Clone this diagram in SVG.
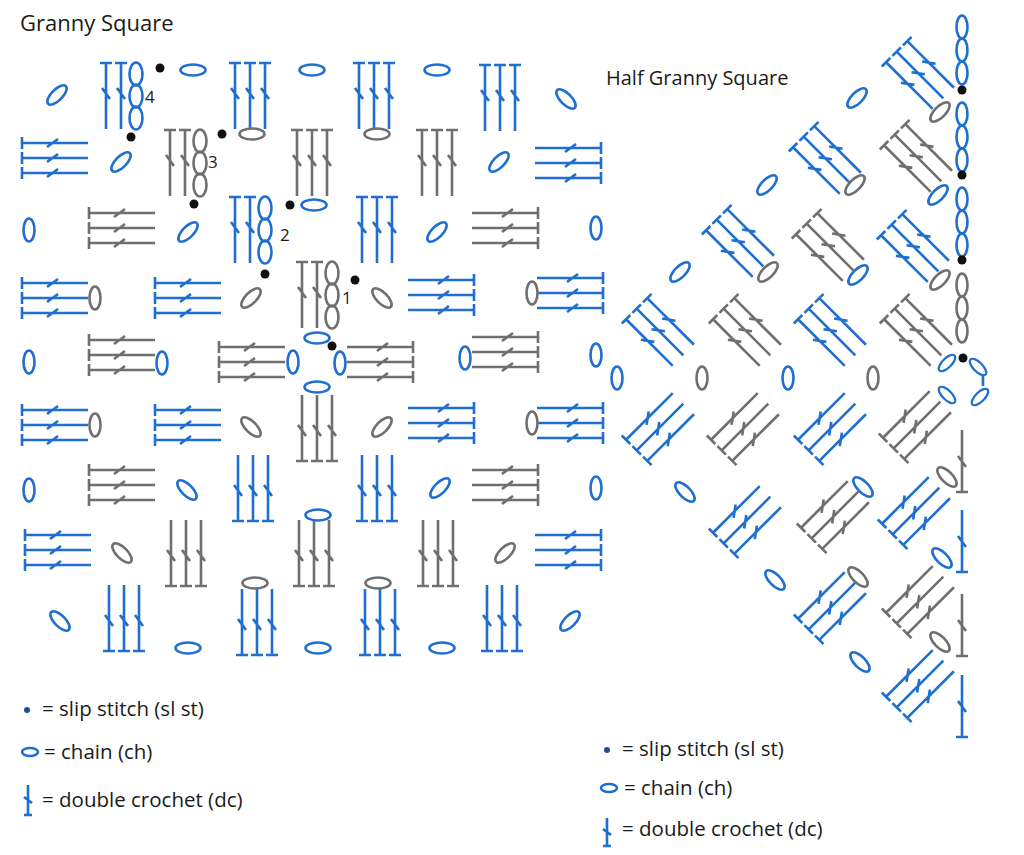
<svg xmlns="http://www.w3.org/2000/svg" xmlns:xlink="http://www.w3.org/1999/xlink" width="1024" height="855" viewBox="0 0 1024 855">
<style>
.b{stroke:#1f6fd0}
.g{stroke:#6f6f6f}
.s{fill:none;stroke-width:2.6}
.dot{fill:#111}
text{font-family:"Open Sans","Liberation Sans",sans-serif;fill:#1a1a1a}
.lg{font-size:20.5px}
</style>
<defs>
<g id="dc3" class="s">
<path d="M-15,-33V33M-21,-33H-9M0,-33V33M-6,-33H6M15,-33V33M9,-33H21M-19,-8L-11,3M-4,-8L4,3M11,-8L19,3"/>
</g>
<g id="dc1" class="s"><path d="M0,-31V31M-6,-31H6M-4,-6L4,5"/></g>
<g id="st" class="s">
<path d="M-15,-33V33M-21,-33H-9M0,-33V33M-6,-33H6M-19,-8L-11,3M-4,-8L4,3"/>
<ellipse cx="15" cy="-22" rx="6.5" ry="11.5"/><ellipse cx="15" cy="0" rx="6.5" ry="11.5"/><ellipse cx="15" cy="22" rx="6.5" ry="11.5"/>
</g>
<ellipse id="ch" class="s" rx="12.5" ry="5.5"/>
<ellipse id="lp" class="s" rx="5.5" ry="11.5"/>
</defs>
<rect width="1024" height="855" fill="#fff"/>
<text x="20" y="31" font-size="22">Granny Square</text>
<text x="606" y="85" font-size="20">Half Granny Square</text>

<g id="round4">
<use href="#st" class="b" transform="translate(121,96)"/>
<use href="#dc3" class="b" transform="translate(250,96)"/>
<use href="#dc3" class="b" transform="translate(374,96)"/>
<use href="#dc3" class="b" transform="translate(500,98)"/>
<use href="#ch" class="b" transform="translate(193,70)"/>
<use href="#ch" class="b" transform="translate(312,70)"/>
<use href="#ch" class="b" transform="translate(437,70)"/>
<use href="#ch" class="b" transform="translate(57,95) rotate(-45)"/>
<use href="#ch" class="b" transform="translate(566,99) rotate(45)"/>
<use href="#ch" class="b" transform="translate(60,621) rotate(45)"/>
<use href="#ch" class="b" transform="translate(570,621) rotate(-45)"/>
<use href="#dc3" class="b" transform="translate(55,158) rotate(-90)"/>
<use href="#dc3" class="b" transform="translate(55,298) rotate(-90)"/>
<use href="#dc3" class="b" transform="translate(55,425) rotate(-90)"/>
<use href="#dc3" class="b" transform="translate(58,550) rotate(-90)"/>
<use href="#dc3" class="b" transform="translate(568,163) rotate(90)"/>
<use href="#dc3" class="b" transform="translate(570,293) rotate(90)"/>
<use href="#dc3" class="b" transform="translate(570,423) rotate(90)"/>
<use href="#dc3" class="b" transform="translate(568,550) rotate(90)"/>
<use href="#lp" class="b" transform="translate(29,230)"/>
<use href="#lp" class="b" transform="translate(29,362)"/>
<use href="#lp" class="b" transform="translate(29,490)"/>
<use href="#lp" class="b" transform="translate(596,228)"/>
<use href="#lp" class="b" transform="translate(596,355)"/>
<use href="#lp" class="b" transform="translate(596,488)"/>
<use href="#dc3" class="b" transform="translate(124,618) rotate(180)"/>
<use href="#dc3" class="b" transform="translate(257,622) rotate(180)"/>
<use href="#dc3" class="b" transform="translate(380,622) rotate(180)"/>
<use href="#dc3" class="b" transform="translate(502,618) rotate(180)"/>
<use href="#ch" class="b" transform="translate(188,648)"/>
<use href="#ch" class="b" transform="translate(318,648)"/>
<use href="#ch" class="b" transform="translate(442,648)"/>
</g>

<g id="round3">
<use href="#st" class="g" transform="translate(185,163)"/>
<use href="#dc3" class="g" transform="translate(312,163)"/>
<use href="#dc3" class="g" transform="translate(437,163)"/>
<use href="#ch" class="g" transform="translate(252,134)"/>
<use href="#ch" class="g" transform="translate(377,134)"/>
<use href="#ch" class="b" transform="translate(121,162) rotate(-45)"/>
<use href="#ch" class="b" transform="translate(499,162) rotate(-45)"/>
<use href="#ch" class="g" transform="translate(122,553) rotate(45)"/>
<use href="#ch" class="g" transform="translate(505,553) rotate(-45)"/>
<use href="#dc3" class="g" transform="translate(122,228) rotate(-90)"/>
<use href="#dc3" class="g" transform="translate(122,355) rotate(-90)"/>
<use href="#dc3" class="g" transform="translate(122,485) rotate(-90)"/>
<use href="#dc3" class="g" transform="translate(505,228) rotate(90)"/>
<use href="#dc3" class="g" transform="translate(505,352) rotate(90)"/>
<use href="#dc3" class="g" transform="translate(505,485) rotate(90)"/>
<use href="#lp" class="g" transform="translate(95,298)"/>
<use href="#lp" class="g" transform="translate(95,425)"/>
<use href="#lp" class="g" transform="translate(532,293)"/>
<use href="#lp" class="g" transform="translate(532,423)"/>
<use href="#dc3" class="g" transform="translate(186,553) rotate(180)"/>
<use href="#dc3" class="g" transform="translate(314,553) rotate(180)"/>
<use href="#dc3" class="g" transform="translate(438,553) rotate(180)"/>
<use href="#ch" class="g" transform="translate(255,583)"/>
<use href="#ch" class="g" transform="translate(378,583)"/>
</g>

<g id="round2">
<use href="#st" class="b" transform="translate(250,230)"/>
<use href="#dc3" class="b" transform="translate(377,230)"/>
<use href="#ch" class="b" transform="translate(314,205)"/>
<use href="#ch" class="b" transform="translate(188,232) rotate(-45)"/>
<use href="#ch" class="b" transform="translate(437,232) rotate(-45)"/>
<use href="#ch" class="b" transform="translate(187,490) rotate(45)"/>
<use href="#ch" class="b" transform="translate(440,488) rotate(-45)"/>
<use href="#dc3" class="b" transform="translate(188,298) rotate(-90)"/>
<use href="#dc3" class="b" transform="translate(188,425) rotate(-90)"/>
<use href="#dc3" class="b" transform="translate(441,295) rotate(90)"/>
<use href="#dc3" class="b" transform="translate(441,423) rotate(90)"/>
<use href="#lp" class="b" transform="translate(162,363)"/>
<use href="#lp" class="b" transform="translate(465,358)"/>
<use href="#dc3" class="b" transform="translate(253,488) rotate(180)"/>
<use href="#dc3" class="b" transform="translate(377,488) rotate(180)"/>
<use href="#ch" class="b" transform="translate(318,515)"/>
</g>

<g id="round1">
<use href="#st" class="g" transform="translate(317,295)"/>
<use href="#dc3" class="g" transform="translate(252,362) rotate(-90)"/>
<use href="#dc3" class="g" transform="translate(380,362) rotate(90)"/>
<use href="#dc3" class="g" transform="translate(317,428) rotate(180)"/>
<use href="#ch" class="g" transform="translate(251,298) rotate(-45)"/>
<use href="#ch" class="g" transform="translate(382,298) rotate(45)"/>
<use href="#ch" class="g" transform="translate(251,427) rotate(45)"/>
<use href="#ch" class="g" transform="translate(382,427) rotate(-45)"/>
<use href="#ch" class="b" transform="translate(317,338)"/>
<use href="#lp" class="b" transform="translate(293,362)"/>
<use href="#lp" class="b" transform="translate(340,363)"/>
<use href="#ch" class="b" transform="translate(317,387)"/>
</g>

<g id="slipstitches">
<circle class="dot" cx="160" cy="68" r="4.5"/><circle class="dot" cx="131" cy="137" r="4.5"/>
<circle class="dot" cx="222" cy="134" r="4.5"/><circle class="dot" cx="194" cy="204" r="4.5"/>
<circle class="dot" cx="290" cy="205" r="4.5"/><circle class="dot" cx="265" cy="274" r="4.5"/>
<circle class="dot" cx="355" cy="280" r="4.5"/><circle class="dot" cx="332" cy="346" r="4.5"/>
<text x="145" y="103" font-size="17">4</text>
<text x="208" y="168" font-size="17">3</text>
<text x="280" y="241" font-size="17">2</text>
<text x="342" y="304" font-size="17">1</text>
</g>

<g id="half">
<use href="#dc3" class="b" transform="translate(920,75) rotate(-45)"/>
<use href="#dc3" class="b" transform="translate(827,160) rotate(-45)"/>
<use href="#dc3" class="g" transform="translate(918,158) rotate(-45)"/>
<use href="#dc3" class="b" transform="translate(740,243) rotate(-45)"/>
<use href="#dc3" class="g" transform="translate(830,247) rotate(-45)"/>
<use href="#dc3" class="b" transform="translate(915,248) rotate(-45)"/>
<use href="#dc3" class="b" transform="translate(660,332) rotate(-45)"/>
<use href="#dc3" class="g" transform="translate(747,332) rotate(-45)"/>
<use href="#dc3" class="b" transform="translate(832,332) rotate(-45)"/>
<use href="#dc3" class="g" transform="translate(918,332) rotate(-45)"/>
<use href="#ch" class="g" transform="translate(940,112) rotate(-45)"/>
<use href="#ch" class="g" transform="translate(855,185) rotate(-45)"/>
<use href="#ch" class="b" transform="translate(938,195) rotate(-45)"/>
<use href="#ch" class="g" transform="translate(768,272) rotate(-45)"/>
<use href="#ch" class="b" transform="translate(858,275) rotate(-45)"/>
<use href="#ch" class="g" transform="translate(940,280) rotate(-45)"/>
<use href="#ch" class="b" transform="translate(857,98) rotate(-45)"/>
<use href="#ch" class="b" transform="translate(767,185) rotate(-45)"/>
<use href="#ch" class="b" transform="translate(680,272) rotate(-45)"/>
<use href="#lp" class="b" transform="translate(617,378)"/>
<use href="#lp" class="g" transform="translate(702,378)"/>
<use href="#lp" class="b" transform="translate(788,378)"/>
<use href="#lp" class="g" transform="translate(873,378)"/>
<use href="#dc3" class="b" transform="translate(660,427) rotate(-135)"/>
<use href="#dc3" class="g" transform="translate(745,427) rotate(-135)"/>
<use href="#dc3" class="b" transform="translate(832,427) rotate(-135)"/>
<use href="#dc3" class="g" transform="translate(917,425) rotate(-135)"/>
<use href="#dc3" class="b" transform="translate(747,520) rotate(-135)"/>
<use href="#dc3" class="g" transform="translate(835,515) rotate(-135)"/>
<use href="#dc3" class="b" transform="translate(916,511) rotate(-135)"/>
<use href="#dc3" class="b" transform="translate(832,606) rotate(-135)"/>
<use href="#dc3" class="g" transform="translate(920,600) rotate(-135)"/>
<use href="#dc3" class="b" transform="translate(920,684) rotate(-135)"/>
<use href="#ch" class="b" transform="translate(863,487) rotate(45)"/>
<use href="#ch" class="g" transform="translate(947,477) rotate(45)"/>
<use href="#ch" class="g" transform="translate(858,577) rotate(45)"/>
<use href="#ch" class="b" transform="translate(942,558) rotate(45)"/>
<use href="#ch" class="g" transform="translate(940,642) rotate(45)"/>
<use href="#ch" class="b" transform="translate(685,492) rotate(45)"/>
<use href="#ch" class="b" transform="translate(775,580) rotate(45)"/>
<use href="#ch" class="b" transform="translate(860,662) rotate(45)"/>
<use href="#lp" class="b" transform="translate(962,27)"/>
<use href="#lp" class="b" transform="translate(962,50)"/>
<use href="#lp" class="b" transform="translate(962,73)"/>
<use href="#lp" class="b" transform="translate(962,114)"/>
<use href="#lp" class="b" transform="translate(962,137)"/>
<use href="#lp" class="b" transform="translate(962,160)"/>
<use href="#lp" class="b" transform="translate(962,199)"/>
<use href="#lp" class="b" transform="translate(962,222)"/>
<use href="#lp" class="b" transform="translate(962,245)"/>
<use href="#lp" class="g" transform="translate(962,285)"/>
<use href="#lp" class="g" transform="translate(962,308)"/>
<use href="#lp" class="g" transform="translate(962,331)"/>
<circle class="dot" cx="962" cy="90" r="4.5"/>
<circle class="dot" cx="962" cy="175" r="4.5"/>
<circle class="dot" cx="962" cy="260" r="4.5"/>
<circle class="dot" cx="963" cy="358" r="4.5"/>
<use href="#ch" class="b" transform="translate(947,363) rotate(-45) scale(0.85)"/>
<use href="#ch" class="b" transform="translate(978,367) rotate(45) scale(0.85)"/>
<path class="s b" d="M983,375V386"/>
<use href="#ch" class="b" transform="translate(980,397) rotate(-45) scale(0.85)"/>
<use href="#ch" class="b" transform="translate(947,395) rotate(45) scale(0.85)"/>
<use href="#dc1" class="g" transform="translate(962,461) rotate(180)"/>
<use href="#dc1" class="b" transform="translate(962,541) rotate(180)"/>
<use href="#dc1" class="g" transform="translate(962,625) rotate(180)"/>
<use href="#dc1" class="b" transform="translate(962,706) rotate(180)"/>
</g>

<g id="legend-left">
<circle cx="27" cy="710" r="3" fill="#1f4fa0"/>
<text class="lg" x="42" y="716">= slip stitch (sl st)</text>
<ellipse cx="30" cy="752" rx="8" ry="4" class="s b" stroke-width="2"/>
<text class="lg" x="44" y="759">= chain (ch)</text>
<path class="s b" stroke-width="2" d="M28,785V815M24,815H32M24,797L32,803"/>
<text class="lg" x="42" y="807">= double crochet (dc)</text>
</g>
<g id="legend-right">
<circle cx="607" cy="750" r="3" fill="#1f4fa0"/>
<text class="lg" x="622" y="756">= slip stitch (sl st)</text>
<ellipse cx="609" cy="788" rx="8" ry="4" class="s b" stroke-width="2"/>
<text class="lg" x="624" y="795">= chain (ch)</text>
<path class="s b" stroke-width="2" d="M607,818V846M603,846H611M603,829L611,835"/>
<text class="lg" x="622" y="836">= double crochet (dc)</text>
</g>
</svg>
